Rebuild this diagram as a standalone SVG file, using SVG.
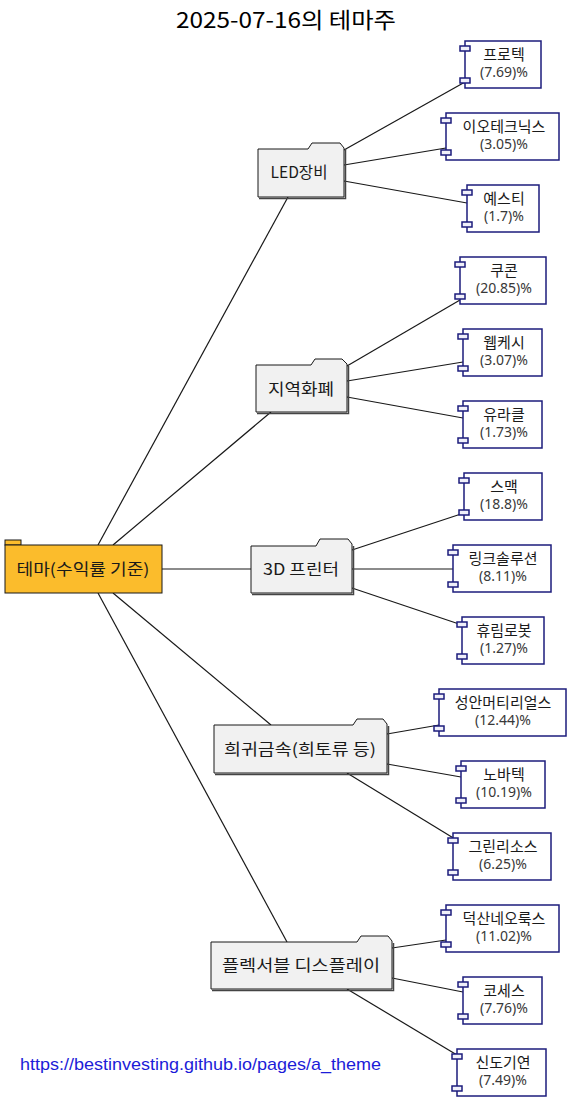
<svg xmlns="http://www.w3.org/2000/svg" width="572" height="1103" viewBox="0 0 572 1103">
<style>
.bg{fill:#ffffff}
.ln{stroke:#181818;stroke-width:1.2;fill:none}
.comp{fill:#ffffff;stroke:#1c1c7c;stroke-width:1.5}
.port{fill:#f0f0fa;stroke:#1c1c7c;stroke-width:1.5}
.fold{fill:#f1f1f1;stroke:#181818;stroke-width:1}
.shadow{fill:none;stroke:#444;stroke-width:1.5}
.root{fill:#fbbc2c;stroke:#181818;stroke-width:1}
.nm{font-family:"Noto Sans CJK KR","Noto Sans",sans-serif;font-size:15px;fill:#1a1a1a;text-anchor:middle}
.pc{font-family:"Noto Sans","Noto Sans CJK KR",sans-serif;font-size:14px;fill:#383838;text-anchor:middle}
.th{font-family:"Noto Sans CJK KR","Noto Sans",sans-serif;font-size:16px;fill:#1a1a1a;text-anchor:middle}
.title{font-family:"Noto Sans CJK KR","Noto Sans",sans-serif;font-size:22px;fill:#000;text-anchor:middle}
.link{font-family:"Liberation Sans",Arial,sans-serif;font-size:17px;fill:#1c1cd8}
</style>
<rect class="bg" x="0" y="0" width="572" height="1103"/>
<text class="title" x="286" y="28" textLength="220" lengthAdjust="spacingAndGlyphs">2025-07-16의 테마주</text>

<g id="connectors">
<line class="ln" x1="98" y1="545" x2="288" y2="197"/>
<line class="ln" x1="113" y1="545" x2="271" y2="412"/>
<line class="ln" x1="162" y1="569" x2="251" y2="569"/>
<line class="ln" x1="113" y1="593" x2="271" y2="725"/>
<line class="ln" x1="98" y1="593" x2="287" y2="942"/>

<line class="ln" x1="344" y1="150" x2="465" y2="82"/>
<line class="ln" x1="344" y1="165" x2="446" y2="148"/>
<line class="ln" x1="344" y1="181" x2="467" y2="203"/>

<line class="ln" x1="347" y1="366" x2="460" y2="300"/>
<line class="ln" x1="347" y1="381" x2="463" y2="362"/>
<line class="ln" x1="347" y1="397" x2="463" y2="418"/>

<line class="ln" x1="352" y1="550" x2="464" y2="513"/>
<line class="ln" x1="352" y1="569" x2="453" y2="569"/>
<line class="ln" x1="352" y1="588" x2="462" y2="625"/>

<line class="ln" x1="387" y1="734" x2="439" y2="725"/>
<line class="ln" x1="387" y1="764" x2="461" y2="777"/>
<line class="ln" x1="347" y1="773" x2="455" y2="839"/>

<line class="ln" x1="392" y1="948" x2="446" y2="940"/>
<line class="ln" x1="392" y1="978" x2="463" y2="992"/>
<line class="ln" x1="347" y1="989" x2="457" y2="1055"/>
</g>

<g id="root">
<rect class="root" x="5" y="540" width="16" height="5"/>
<rect class="root" x="5" y="545" width="157" height="48"/>
<text class="th" x="83" y="575" textLength="133" lengthAdjust="spacingAndGlyphs">테마(수익률 기준)</text>
</g>

<g id="t-led">
<path class="shadow" d="M345.5,149 L345.5,198.5 L259,198.5"/>
<path class="fold" d="M258,149 L308,149 L312,143 L340,143 L344,148 L344,197 L258,197 Z"/>
<text class="th" x="299" y="178" textLength="57" lengthAdjust="spacingAndGlyphs">LED장비</text>
</g>

<g id="t-local">
<path class="shadow" d="M348.5,366 L348.5,413.5 L257,413.5"/>
<path class="fold" d="M256,365 L311,365 L315,359 L342,359 L347,364 L347,412 L256,412 Z"/>
<text class="th" x="301" y="395" textLength="66" lengthAdjust="spacingAndGlyphs">지역화폐</text>
</g>

<g id="t-3d">
<path class="shadow" d="M353.5,546 L353.5,594.5 L252,594.5"/>
<path class="fold" d="M251,546 L316,546 L320,539 L348,539 L352,544 L352,593 L251,593 Z"/>
<text class="th" x="301" y="575" textLength="76" lengthAdjust="spacingAndGlyphs">3D 프린터</text>
</g>

<g id="t-rare">
<path class="shadow" d="M388.5,726 L388.5,774.5 L215,774.5"/>
<path class="fold" d="M214,725 L353,725 L357,719 L383,719 L387,724 L387,773 L214,773 Z"/>
<text class="th" x="300" y="755" textLength="152" lengthAdjust="spacingAndGlyphs">희귀금속(희토류 등)</text>
</g>

<g id="t-flex">
<path class="shadow" d="M393.5,943 L393.5,990.5 L212,990.5"/>
<path class="fold" d="M211,942 L357,942 L361,936 L388,936 L392,941 L392,989 L211,989 Z"/>
<text class="th" x="301" y="971" textLength="158" lengthAdjust="spacingAndGlyphs">플렉서블 디스플레이</text>
</g>

<g id="s-protec">
<rect class="comp" x="465" y="41" width="76" height="47"/>
<rect class="port" x="460" y="46" width="10" height="5"/>
<rect class="port" x="460" y="78" width="10" height="5"/>
<text class="nm" x="504" y="60">프로텍</text>
<text class="pc" x="504" y="77">(7.69)%</text>
</g>
<g id="s-eo">
<rect class="comp" x="446" y="113" width="113" height="47"/>
<rect class="port" x="441" y="118" width="10" height="5"/>
<rect class="port" x="441" y="150" width="10" height="5"/>
<text class="nm" x="504" y="132">이오테크닉스</text>
<text class="pc" x="504" y="149">(3.05)%</text>
</g>
<g id="s-yesti">
<rect class="comp" x="467" y="185" width="72" height="47"/>
<rect class="port" x="462" y="190" width="10" height="5"/>
<rect class="port" x="462" y="222" width="10" height="5"/>
<text class="nm" x="504" y="204">예스티</text>
<text class="pc" x="504" y="221">(1.7)%</text>
</g>
<g id="s-coocon">
<rect class="comp" x="460" y="257" width="86" height="47"/>
<rect class="port" x="455" y="262" width="10" height="5"/>
<rect class="port" x="455" y="294" width="10" height="5"/>
<text class="nm" x="504" y="276">쿠콘</text>
<text class="pc" x="504" y="293">(20.85)%</text>
</g>
<g id="s-webcash">
<rect class="comp" x="463" y="329" width="79" height="47"/>
<rect class="port" x="458" y="334" width="10" height="5"/>
<rect class="port" x="458" y="366" width="10" height="5"/>
<text class="nm" x="504" y="348">웹케시</text>
<text class="pc" x="504" y="365">(3.07)%</text>
</g>
<g id="s-uracle">
<rect class="comp" x="463" y="401" width="79" height="47"/>
<rect class="port" x="458" y="406" width="10" height="5"/>
<rect class="port" x="458" y="438" width="10" height="5"/>
<text class="nm" x="504" y="420">유라클</text>
<text class="pc" x="504" y="437">(1.73)%</text>
</g>
<g id="s-smec">
<rect class="comp" x="464" y="473" width="78" height="47"/>
<rect class="port" x="459" y="478" width="10" height="5"/>
<rect class="port" x="459" y="510" width="10" height="5"/>
<text class="nm" x="504" y="492">스맥</text>
<text class="pc" x="504" y="509">(18.8)%</text>
</g>
<g id="s-link">
<rect class="comp" x="453" y="545" width="98" height="47"/>
<rect class="port" x="448" y="550" width="10" height="5"/>
<rect class="port" x="448" y="582" width="10" height="5"/>
<text class="nm" x="503" y="564">링크솔루션</text>
<text class="pc" x="503" y="581">(8.11)%</text>
</g>
<g id="s-hurim">
<rect class="comp" x="462" y="617" width="82" height="47"/>
<rect class="port" x="457" y="622" width="10" height="5"/>
<rect class="port" x="457" y="654" width="10" height="5"/>
<text class="nm" x="504" y="636">휴림로봇</text>
<text class="pc" x="504" y="653">(1.27)%</text>
</g>
<g id="s-sungan">
<rect class="comp" x="439" y="689" width="127" height="47"/>
<rect class="port" x="434" y="694" width="10" height="5"/>
<rect class="port" x="434" y="726" width="10" height="5"/>
<text class="nm" x="503" y="708">성안머티리얼스</text>
<text class="pc" x="503" y="725">(12.44)%</text>
</g>
<g id="s-nova">
<rect class="comp" x="461" y="761" width="84" height="47"/>
<rect class="port" x="456" y="766" width="10" height="5"/>
<rect class="port" x="456" y="798" width="10" height="5"/>
<text class="nm" x="504" y="780">노바텍</text>
<text class="pc" x="504" y="797">(10.19)%</text>
</g>
<g id="s-green">
<rect class="comp" x="453" y="833" width="98" height="47"/>
<rect class="port" x="448" y="838" width="10" height="5"/>
<rect class="port" x="448" y="870" width="10" height="5"/>
<text class="nm" x="503" y="852">그린리소스</text>
<text class="pc" x="503" y="869">(6.25)%</text>
</g>
<g id="s-duksan">
<rect class="comp" x="446" y="905" width="113" height="47"/>
<rect class="port" x="441" y="910" width="10" height="5"/>
<rect class="port" x="441" y="942" width="10" height="5"/>
<text class="nm" x="504" y="924">덕산네오룩스</text>
<text class="pc" x="504" y="941">(11.02)%</text>
</g>
<g id="s-coses">
<rect class="comp" x="463" y="977" width="79" height="47"/>
<rect class="port" x="458" y="982" width="10" height="5"/>
<rect class="port" x="458" y="1014" width="10" height="5"/>
<text class="nm" x="504" y="996">코세스</text>
<text class="pc" x="504" y="1013">(7.76)%</text>
</g>
<g id="s-shindo">
<rect class="comp" x="457" y="1049" width="89" height="47"/>
<rect class="port" x="452" y="1054" width="10" height="5"/>
<rect class="port" x="452" y="1086" width="10" height="5"/>
<text class="nm" x="503" y="1068">신도기연</text>
<text class="pc" x="503" y="1085">(7.49)%</text>
</g>

<text class="link" x="20" y="1070" textLength="361" lengthAdjust="spacingAndGlyphs">https://bestinvesting.github.io/pages/a_theme</text>
</svg>
